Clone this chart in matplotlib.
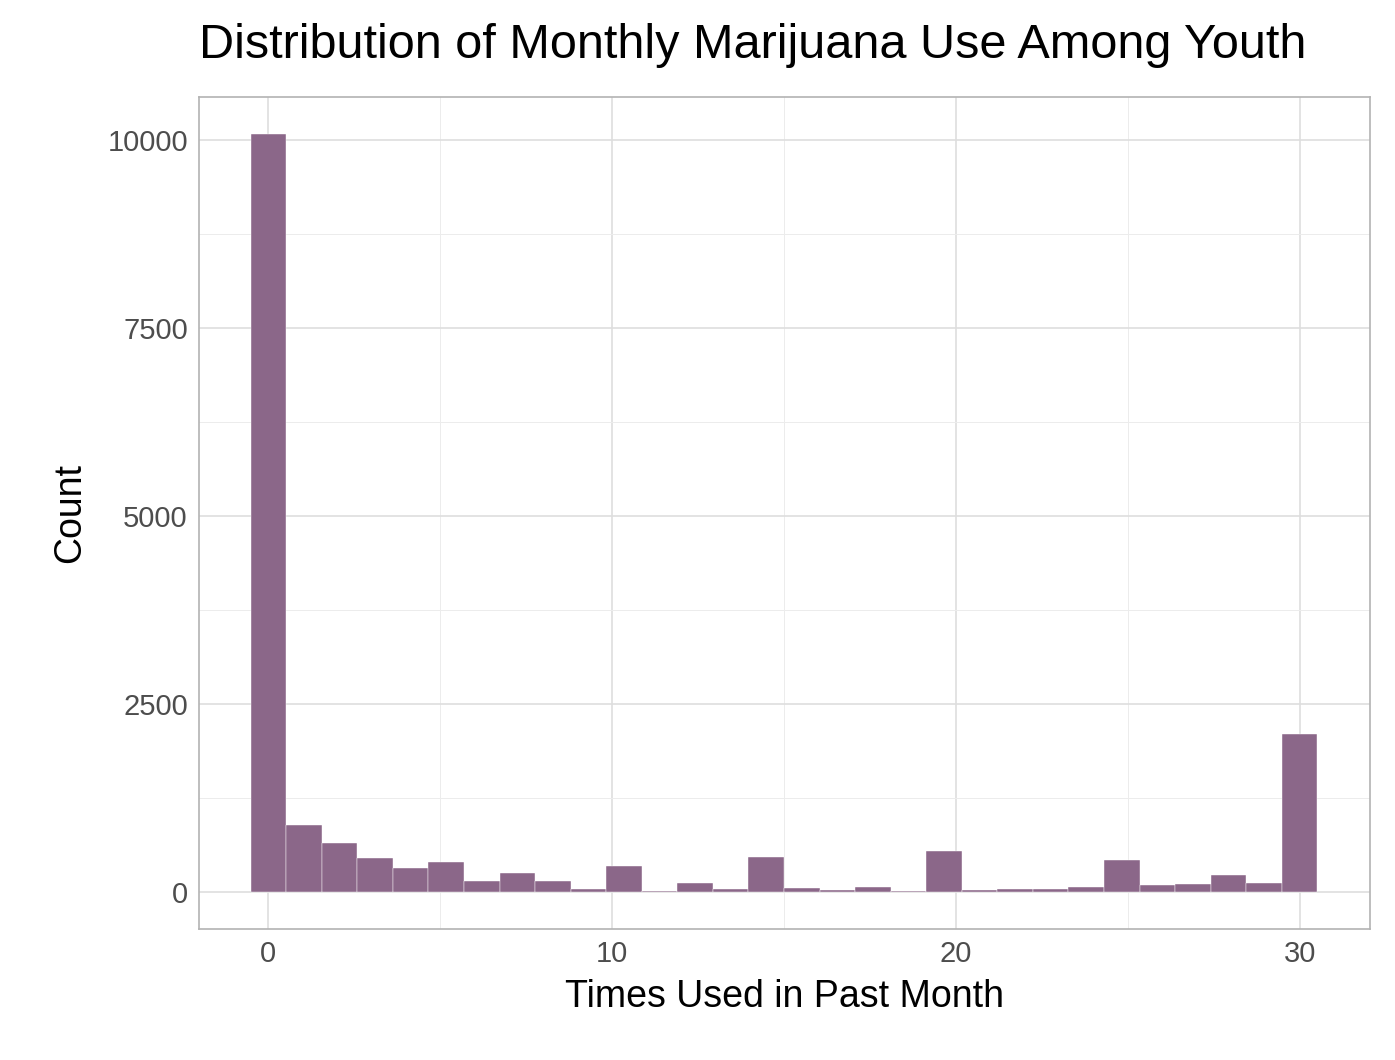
import numpy as np
import matplotlib.pyplot as plt

# counts per bin (30 bins, -0.5 to 30.5)
bin_edges = np.linspace(-0.5, 30.5, 31)
counts = [10080, 891, 652, 452, 319, 399, 146, 253, 146, 40,
          346, 13, 120, 40, 465, 53, 27, 66, 13, 545,
          27, 40, 40, 66, 425, 93, 106, 226, 120, 2101]
x_ticks = [0, 10, 20, 30]
y_ticks = [0, 2500, 5000, 7500, 10000]

plt.rcParams['font.family'] = ['Liberation Sans', 'DejaVu Sans']
fig = plt.figure(figsize=(13.95, 10.6), dpi=100)
ax = fig.add_axes([199/1395, 1 - 929/1060, (1370-199)/1395, (929-97)/1060])

centers = (bin_edges[:-1] + bin_edges[1:]) / 2
ax.hist(centers, bins=bin_edges, weights=counts, color='#8b6789',
        edgecolor='white', linewidth=0.3, zorder=3)

ax.set_xlim(-2.0, 32.03)
ax.set_ylim(-492, 10572)
ax.set_xticks(x_ticks)
ax.set_yticks(y_ticks)
ax.set_xticks([5, 15, 25], minor=True)
ax.set_yticks([1250, 3750, 6250, 8750], minor=True)
ax.grid(which='major', color='#dedede', linewidth=1.2, zorder=0)
ax.grid(which='minor', color='#ececec', linewidth=0.7, zorder=0)
ax.tick_params(which='both', length=0)
ax.tick_params(which='major', labelsize=21, labelcolor='#4d4d4d', pad=8)
for s in ax.spines.values():
    s.set_color('#b3b3b3')
    s.set_linewidth(1.2)

ax.set_xlabel("Times Used in Past Month", fontsize=27, labelpad=8)
ax.set_ylabel("Count", fontsize=27, labelpad=14)
fig.text(199/1395, 1 - 45/1060, "Distribution of Monthly Marijuana Use Among Youth",
         fontsize=35, va='center', ha='left')

plt.savefig('out.png', dpi=100)
